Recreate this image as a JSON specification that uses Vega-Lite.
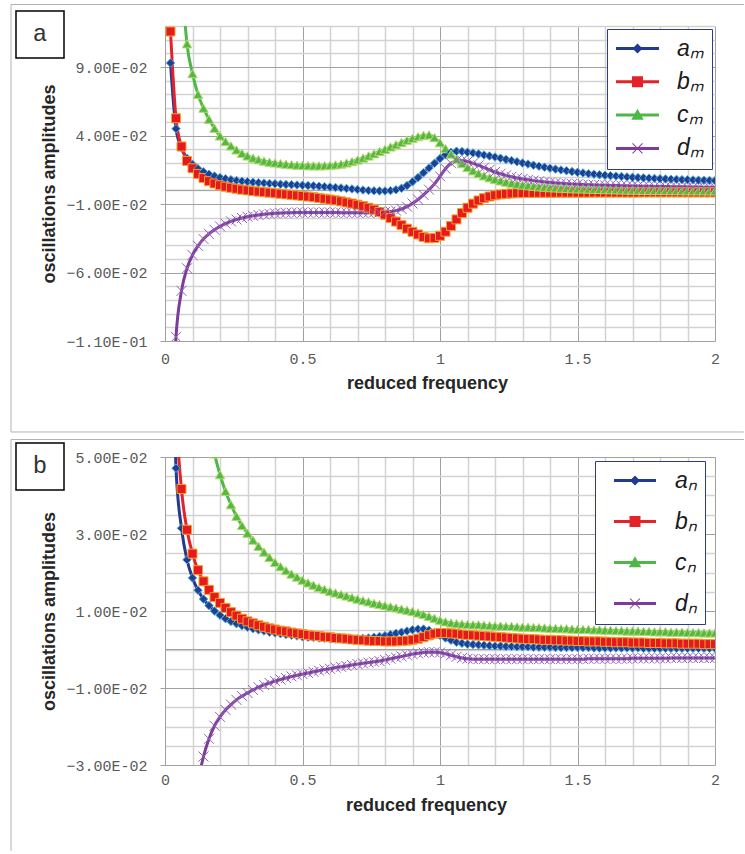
{
"$schema":"https://vega.github.io/schema/vega-lite/v6.json",
"padding":{"left":10,"top":3,"right":0,"bottom":0},
"spacing":6,
"resolve":{"scale":{"color":"independent","shape":"independent","fill":"independent","stroke":"independent","size":"independent"}},
"config":{"view":{"stroke":null},
"axis":{"labelFont":"Liberation Mono","labelFontSize":15,"labelColor":"#595959","titleFont":"Liberation Sans","titleFontSize":18,"titleFontWeight":"bold","titleColor":"#262626","domainColor":"#A0A0A0","labelOverlap":false,"labelFlush":false,"labelBound":false}},
"datasets":{
"m":[
{"x":0.02,"a":0.093,"b":0.116,"c":0.5,"d":-0.2},
{"x":0.04,"a":0.045,"b":0.0526,"c":0.25,"d":-0.107},
{"x":0.06,"a":0.031,"b":0.032,"c":0.16,"d":-0.0734},
{"x":0.08,"a":0.0235,"b":0.0215,"c":0.107,"d":-0.0569},
{"x":0.1,"a":0.019,"b":0.0161,"c":0.0852,"d":-0.0472},
{"x":0.12,"a":0.0158,"b":0.012,"c":0.0701,"d":-0.0405},
{"x":0.14,"a":0.0135,"b":0.009,"c":0.06,"d":-0.0355},
{"x":0.16,"a":0.0118,"b":0.0067,"c":0.0519,"d":-0.0318},
{"x":0.18,"a":0.0104,"b":0.005,"c":0.0453,"d":-0.0288},
{"x":0.2,"a":0.0093,"b":0.0037,"c":0.0397,"d":-0.0263},
{"x":0.22,"a":0.0085,"b":0.0027,"c":0.0356,"d":-0.0243},
{"x":0.24,"a":0.0078,"b":0.0019,"c":0.0324,"d":-0.0227},
{"x":0.26,"a":0.0072,"b":0.0012,"c":0.0295,"d":-0.0213},
{"x":0.28,"a":0.0067,"b":0.0005,"c":0.027,"d":-0.0202},
{"x":0.3,"a":0.0063,"b":0.0,"c":0.0251,"d":-0.0193},
{"x":0.32,"a":0.0059,"b":-0.0005,"c":0.0236,"d":-0.0186},
{"x":0.34,"a":0.0056,"b":-0.0009,"c":0.0224,"d":-0.018},
{"x":0.36,"a":0.0053,"b":-0.0013,"c":0.0214,"d":-0.0175},
{"x":0.38,"a":0.005,"b":-0.0017,"c":0.0206,"d":-0.0171},
{"x":0.4,"a":0.0048,"b":-0.0021,"c":0.02,"d":-0.0168},
{"x":0.42,"a":0.0045,"b":-0.0025,"c":0.0195,"d":-0.0166},
{"x":0.44,"a":0.0043,"b":-0.0029,"c":0.0191,"d":-0.0164},
{"x":0.46,"a":0.0041,"b":-0.0033,"c":0.0187,"d":-0.0163},
{"x":0.48,"a":0.0039,"b":-0.0037,"c":0.0184,"d":-0.0162},
{"x":0.5,"a":0.0037,"b":-0.0041,"c":0.0182,"d":-0.0162},
{"x":0.52,"a":0.0035,"b":-0.0045,"c":0.018,"d":-0.0162},
{"x":0.54,"a":0.0033,"b":-0.005,"c":0.0179,"d":-0.0162},
{"x":0.56,"a":0.003,"b":-0.0055,"c":0.0179,"d":-0.0162},
{"x":0.58,"a":0.0027,"b":-0.0061,"c":0.018,"d":-0.0162},
{"x":0.6,"a":0.0024,"b":-0.0067,"c":0.0182,"d":-0.0162},
{"x":0.62,"a":0.0021,"b":-0.0073,"c":0.0186,"d":-0.0162},
{"x":0.64,"a":0.0018,"b":-0.008,"c":0.0192,"d":-0.0163},
{"x":0.66,"a":0.0014,"b":-0.0088,"c":0.02,"d":-0.0163},
{"x":0.68,"a":0.001,"b":-0.0096,"c":0.021,"d":-0.0163},
{"x":0.7,"a":0.0006,"b":-0.0105,"c":0.0222,"d":-0.0163},
{"x":0.72,"a":0.0002,"b":-0.0115,"c":0.0236,"d":-0.0163},
{"x":0.74,"a":-0.0001,"b":-0.0127,"c":0.0251,"d":-0.0163},
{"x":0.76,"a":-0.0003,"b":-0.0141,"c":0.0267,"d":-0.0162},
{"x":0.78,"a":-0.0004,"b":-0.0158,"c":0.0284,"d":-0.0161},
{"x":0.8,"a":-0.0004,"b":-0.0178,"c":0.03,"d":-0.0159},
{"x":0.82,"a":-0.0002,"b":-0.0202,"c":0.0317,"d":-0.0155},
{"x":0.84,"a":0.0004,"b":-0.0228,"c":0.0333,"d":-0.0148},
{"x":0.86,"a":0.0015,"b":-0.0254,"c":0.035,"d":-0.0136},
{"x":0.88,"a":0.0035,"b":-0.028,"c":0.0366,"d":-0.0119},
{"x":0.9,"a":0.0062,"b":-0.0303,"c":0.038,"d":-0.0096},
{"x":0.92,"a":0.0093,"b":-0.0322,"c":0.0392,"d":-0.0067},
{"x":0.94,"a":0.0128,"b":-0.034,"c":0.0401,"d":-0.0033},
{"x":0.96,"a":0.0163,"b":-0.035,"c":0.0405,"d":0.0005},
{"x":0.98,"a":0.0198,"b":-0.0348,"c":0.0385,"d":0.0047},
{"x":1.0,"a":0.0232,"b":-0.0332,"c":0.0348,"d":0.0103},
{"x":1.02,"a":0.026,"b":-0.0302,"c":0.0305,"d":0.0158},
{"x":1.04,"a":0.0278,"b":-0.026,"c":0.0265,"d":0.0198},
{"x":1.06,"a":0.0286,"b":-0.0212,"c":0.0228,"d":0.0217},
{"x":1.08,"a":0.0284,"b":-0.0166,"c":0.0195,"d":0.0218},
{"x":1.1,"a":0.0279,"b":-0.0127,"c":0.0167,"d":0.021},
{"x":1.12,"a":0.0273,"b":-0.0097,"c":0.0143,"d":0.0197},
{"x":1.14,"a":0.0266,"b":-0.0074,"c":0.0123,"d":0.0182},
{"x":1.16,"a":0.0258,"b":-0.0057,"c":0.0106,"d":0.0166},
{"x":1.18,"a":0.0251,"b":-0.0045,"c":0.0092,"d":0.015},
{"x":1.2,"a":0.0243,"b":-0.0036,"c":0.008,"d":0.0134},
{"x":1.22,"a":0.0235,"b":-0.003,"c":0.0069,"d":0.0121},
{"x":1.24,"a":0.0226,"b":-0.0026,"c":0.006,"d":0.0109},
{"x":1.26,"a":0.0218,"b":-0.0023,"c":0.0052,"d":0.0099},
{"x":1.28,"a":0.0209,"b":-0.0021,"c":0.0045,"d":0.009},
{"x":1.3,"a":0.02,"b":-0.002,"c":0.0039,"d":0.0083},
{"x":1.32,"a":0.0192,"b":-0.0019,"c":0.0034,"d":0.0077},
{"x":1.34,"a":0.0184,"b":-0.0019,"c":0.003,"d":0.0071},
{"x":1.36,"a":0.0176,"b":-0.0018,"c":0.0026,"d":0.0066},
{"x":1.38,"a":0.0169,"b":-0.0018,"c":0.0023,"d":0.0061},
{"x":1.4,"a":0.0162,"b":-0.0018,"c":0.002,"d":0.0057},
{"x":1.42,"a":0.0155,"b":-0.0018,"c":0.0018,"d":0.0054},
{"x":1.44,"a":0.0149,"b":-0.0017,"c":0.0016,"d":0.0051},
{"x":1.46,"a":0.0143,"b":-0.0017,"c":0.0014,"d":0.0048},
{"x":1.48,"a":0.0137,"b":-0.0017,"c":0.0012,"d":0.0046},
{"x":1.5,"a":0.0132,"b":-0.0017,"c":0.0011,"d":0.0044},
{"x":1.52,"a":0.0127,"b":-0.0017,"c":0.001,"d":0.0042},
{"x":1.54,"a":0.0122,"b":-0.0017,"c":0.0009,"d":0.0041},
{"x":1.56,"a":0.0118,"b":-0.0016,"c":0.0008,"d":0.0039},
{"x":1.58,"a":0.0114,"b":-0.0016,"c":0.0007,"d":0.0038},
{"x":1.6,"a":0.011,"b":-0.0016,"c":0.0006,"d":0.0037},
{"x":1.62,"a":0.0107,"b":-0.0016,"c":0.0005,"d":0.0036},
{"x":1.64,"a":0.0104,"b":-0.0016,"c":0.0004,"d":0.0035},
{"x":1.66,"a":0.0101,"b":-0.0016,"c":0.0003,"d":0.0034},
{"x":1.68,"a":0.0098,"b":-0.0016,"c":0.0002,"d":0.0033},
{"x":1.7,"a":0.0095,"b":-0.0016,"c":0.0001,"d":0.0032},
{"x":1.72,"a":0.0093,"b":-0.0016,"c":0.0001,"d":0.0031},
{"x":1.74,"a":0.0091,"b":-0.0015,"c":0.0,"d":0.003},
{"x":1.76,"a":0.0089,"b":-0.0015,"c":0.0,"d":0.003},
{"x":1.78,"a":0.0087,"b":-0.0015,"c":-0.0001,"d":0.0029},
{"x":1.8,"a":0.0085,"b":-0.0015,"c":-0.0001,"d":0.0028},
{"x":1.82,"a":0.0083,"b":-0.0015,"c":-0.0001,"d":0.0028},
{"x":1.84,"a":0.0081,"b":-0.0015,"c":-0.0002,"d":0.0027},
{"x":1.86,"a":0.008,"b":-0.0015,"c":-0.0002,"d":0.0026},
{"x":1.88,"a":0.0078,"b":-0.0015,"c":-0.0002,"d":0.0026},
{"x":1.9,"a":0.0077,"b":-0.0015,"c":-0.0003,"d":0.0025},
{"x":1.92,"a":0.0076,"b":-0.0015,"c":-0.0003,"d":0.0024},
{"x":1.94,"a":0.0074,"b":-0.0015,"c":-0.0003,"d":0.0024},
{"x":1.96,"a":0.0073,"b":-0.0015,"c":-0.0003,"d":0.0023},
{"x":1.98,"a":0.0072,"b":-0.0015,"c":-0.0004,"d":0.0023},
{"x":2.0,"a":0.0071,"b":-0.0015,"c":-0.0004,"d":0.0022}
],
"n":[
{"x":0.02,"a":0.15,"b":0.2,"c":0.45,"d":-0.2},
{"x":0.04,"a":0.0471,"b":0.065,"c":0.24,"d":-0.12},
{"x":0.06,"a":0.0315,"b":0.0417,"c":0.16,"d":-0.08},
{"x":0.08,"a":0.0233,"b":0.0311,"c":0.12,"d":-0.057},
{"x":0.1,"a":0.0186,"b":0.0249,"c":0.095,"d":-0.044},
{"x":0.12,"a":0.0154,"b":0.0206,"c":0.078,"d":-0.0345},
{"x":0.14,"a":0.0131,"b":0.0177,"c":0.066,"d":-0.0278},
{"x":0.16,"a":0.0114,"b":0.0155,"c":0.057,"d":-0.0232},
{"x":0.18,"a":0.01,"b":0.0136,"c":0.0508,"d":-0.0198},
{"x":0.2,"a":0.0089,"b":0.0121,"c":0.0454,"d":-0.0175},
{"x":0.22,"a":0.008,"b":0.0108,"c":0.0411,"d":-0.0157},
{"x":0.24,"a":0.0073,"b":0.0097,"c":0.0376,"d":-0.0143},
{"x":0.26,"a":0.0067,"b":0.0088,"c":0.0346,"d":-0.0131},
{"x":0.28,"a":0.0062,"b":0.008,"c":0.0322,"d":-0.0121},
{"x":0.3,"a":0.0058,"b":0.0073,"c":0.0302,"d":-0.0113},
{"x":0.32,"a":0.0054,"b":0.0068,"c":0.0284,"d":-0.0105},
{"x":0.34,"a":0.0051,"b":0.0063,"c":0.0268,"d":-0.0098},
{"x":0.36,"a":0.0048,"b":0.0059,"c":0.0253,"d":-0.0092},
{"x":0.38,"a":0.0045,"b":0.0055,"c":0.0239,"d":-0.0087},
{"x":0.4,"a":0.0043,"b":0.0052,"c":0.0226,"d":-0.0082},
{"x":0.42,"a":0.0041,"b":0.0049,"c":0.0215,"d":-0.0078},
{"x":0.44,"a":0.0039,"b":0.0047,"c":0.0205,"d":-0.0074},
{"x":0.46,"a":0.0037,"b":0.0044,"c":0.0196,"d":-0.007},
{"x":0.48,"a":0.0035,"b":0.0042,"c":0.0188,"d":-0.0067},
{"x":0.5,"a":0.0033,"b":0.004,"c":0.018,"d":-0.0064},
{"x":0.52,"a":0.0032,"b":0.0038,"c":0.0173,"d":-0.0061},
{"x":0.54,"a":0.0031,"b":0.0036,"c":0.0167,"d":-0.0058},
{"x":0.56,"a":0.003,"b":0.0035,"c":0.0161,"d":-0.0055},
{"x":0.58,"a":0.0029,"b":0.0033,"c":0.0156,"d":-0.0052},
{"x":0.6,"a":0.0028,"b":0.0032,"c":0.0151,"d":-0.005},
{"x":0.62,"a":0.0027,"b":0.003,"c":0.0147,"d":-0.0047},
{"x":0.64,"a":0.0027,"b":0.0029,"c":0.0143,"d":-0.0045},
{"x":0.66,"a":0.0027,"b":0.0028,"c":0.0139,"d":-0.0043},
{"x":0.68,"a":0.0027,"b":0.0026,"c":0.0135,"d":-0.004},
{"x":0.7,"a":0.0028,"b":0.0025,"c":0.0131,"d":-0.0038},
{"x":0.72,"a":0.0029,"b":0.0024,"c":0.0127,"d":-0.0036},
{"x":0.74,"a":0.003,"b":0.0023,"c":0.0124,"d":-0.0034},
{"x":0.76,"a":0.0032,"b":0.0022,"c":0.012,"d":-0.0032},
{"x":0.78,"a":0.0034,"b":0.0022,"c":0.0117,"d":-0.003},
{"x":0.8,"a":0.0036,"b":0.0021,"c":0.0114,"d":-0.0027},
{"x":0.82,"a":0.0039,"b":0.0021,"c":0.0111,"d":-0.0024},
{"x":0.84,"a":0.0042,"b":0.0021,"c":0.0108,"d":-0.0021},
{"x":0.86,"a":0.0045,"b":0.0022,"c":0.0105,"d":-0.0018},
{"x":0.88,"a":0.0048,"b":0.0023,"c":0.0102,"d":-0.0015},
{"x":0.9,"a":0.0051,"b":0.0025,"c":0.0099,"d":-0.0012},
{"x":0.92,"a":0.0053,"b":0.0028,"c":0.0095,"d":-0.001},
{"x":0.94,"a":0.0053,"b":0.0032,"c":0.0091,"d":-0.0008},
{"x":0.96,"a":0.005,"b":0.0037,"c":0.0086,"d":-0.0007},
{"x":0.98,"a":0.0044,"b":0.0041,"c":0.0081,"d":-0.0007},
{"x":1.0,"a":0.0037,"b":0.0043,"c":0.0076,"d":-0.0008},
{"x":1.02,"a":0.003,"b":0.0043,"c":0.0072,"d":-0.0011},
{"x":1.04,"a":0.0024,"b":0.0042,"c":0.0069,"d":-0.0015},
{"x":1.06,"a":0.0019,"b":0.0041,"c":0.0067,"d":-0.0019},
{"x":1.08,"a":0.0016,"b":0.0039,"c":0.0066,"d":-0.0022},
{"x":1.1,"a":0.0014,"b":0.0038,"c":0.0065,"d":-0.0024},
{"x":1.12,"a":0.0013,"b":0.0037,"c":0.0064,"d":-0.0025},
{"x":1.14,"a":0.0012,"b":0.0036,"c":0.0064,"d":-0.0025},
{"x":1.16,"a":0.0011,"b":0.0035,"c":0.0063,"d":-0.0025},
{"x":1.18,"a":0.001,"b":0.0034,"c":0.0062,"d":-0.0025},
{"x":1.2,"a":0.0009,"b":0.0033,"c":0.0061,"d":-0.0025},
{"x":1.22,"a":0.0009,"b":0.0032,"c":0.0061,"d":-0.0025},
{"x":1.24,"a":0.0008,"b":0.0031,"c":0.006,"d":-0.0025},
{"x":1.26,"a":0.0008,"b":0.003,"c":0.006,"d":-0.0025},
{"x":1.28,"a":0.0007,"b":0.0029,"c":0.0059,"d":-0.0025},
{"x":1.3,"a":0.0007,"b":0.0028,"c":0.0058,"d":-0.0025},
{"x":1.32,"a":0.0007,"b":0.0027,"c":0.0058,"d":-0.0025},
{"x":1.34,"a":0.0006,"b":0.0027,"c":0.0057,"d":-0.0025},
{"x":1.36,"a":0.0006,"b":0.0026,"c":0.0057,"d":-0.0025},
{"x":1.38,"a":0.0006,"b":0.0025,"c":0.0056,"d":-0.0025},
{"x":1.4,"a":0.0006,"b":0.0025,"c":0.0055,"d":-0.0025},
{"x":1.42,"a":0.0005,"b":0.0024,"c":0.0055,"d":-0.0025},
{"x":1.44,"a":0.0005,"b":0.0024,"c":0.0054,"d":-0.0025},
{"x":1.46,"a":0.0005,"b":0.0023,"c":0.0054,"d":-0.0025},
{"x":1.48,"a":0.0005,"b":0.0023,"c":0.0053,"d":-0.0025},
{"x":1.5,"a":0.0005,"b":0.0022,"c":0.0052,"d":-0.0025},
{"x":1.52,"a":0.0005,"b":0.0022,"c":0.0052,"d":-0.0025},
{"x":1.54,"a":0.0005,"b":0.0021,"c":0.0052,"d":-0.0024},
{"x":1.56,"a":0.0004,"b":0.0021,"c":0.0051,"d":-0.0024},
{"x":1.58,"a":0.0004,"b":0.0021,"c":0.0051,"d":-0.0024},
{"x":1.6,"a":0.0004,"b":0.002,"c":0.005,"d":-0.0024},
{"x":1.62,"a":0.0004,"b":0.002,"c":0.005,"d":-0.0024},
{"x":1.64,"a":0.0004,"b":0.0019,"c":0.0049,"d":-0.0024},
{"x":1.66,"a":0.0004,"b":0.0019,"c":0.0049,"d":-0.0024},
{"x":1.68,"a":0.0004,"b":0.0019,"c":0.0048,"d":-0.0024},
{"x":1.7,"a":0.0004,"b":0.0018,"c":0.0048,"d":-0.0023},
{"x":1.72,"a":0.0004,"b":0.0018,"c":0.0048,"d":-0.0023},
{"x":1.74,"a":0.0003,"b":0.0018,"c":0.0047,"d":-0.0023},
{"x":1.76,"a":0.0003,"b":0.0017,"c":0.0047,"d":-0.0023},
{"x":1.78,"a":0.0003,"b":0.0017,"c":0.0046,"d":-0.0023},
{"x":1.8,"a":0.0003,"b":0.0017,"c":0.0046,"d":-0.0023},
{"x":1.82,"a":0.0003,"b":0.0016,"c":0.0046,"d":-0.0023},
{"x":1.84,"a":0.0003,"b":0.0016,"c":0.0045,"d":-0.0022},
{"x":1.86,"a":0.0003,"b":0.0016,"c":0.0045,"d":-0.0022},
{"x":1.88,"a":0.0003,"b":0.0015,"c":0.0045,"d":-0.0022},
{"x":1.9,"a":0.0003,"b":0.0015,"c":0.0044,"d":-0.0022},
{"x":1.92,"a":0.0003,"b":0.0015,"c":0.0044,"d":-0.0022},
{"x":1.94,"a":0.0003,"b":0.0015,"c":0.0044,"d":-0.0022},
{"x":1.96,"a":0.0003,"b":0.0014,"c":0.0043,"d":-0.0022},
{"x":1.98,"a":0.0003,"b":0.0014,"c":0.0043,"d":-0.0022},
{"x":2.0,"a":0.0003,"b":0.0014,"c":0.0043,"d":-0.0022}
]},
"vconcat":[
{"width":550,"height":315,
"resolve":{"scale":{"color":"independent","shape":"independent"},"axis":{"x":"independent","y":"independent"}},
"layer":[
{"data":{"name":"m"},"transform":[{"fold":["a","b","c","d"],"as":["s","v"]}],
 "mark":{"type":"line","interpolate":"monotone","strokeWidth":3,"clip":true},
 "encoding":{
  "x":{"field":"x","type":"quantitative","scale":{"domain":[0,2],"nice":false,"zero":false},
   "axis":{"orient":"bottom","values":[0,0.1,0.2,0.3,0.4,0.5,0.6,0.7,0.8,0.9,1,1.1,1.2,1.3,1.4,1.5,1.6,1.7,1.8,1.9,2],"labels":false,"ticks":false,"domain":false,"title":null,
   "gridColor":{"condition":{"test":"abs(datum.value*2-round(datum.value*2))<0.001","value":"#A0A0A0"},"value":"#D2D2D2"},
   "gridWidth":{"condition":{"test":"abs(datum.value*2-round(datum.value*2))<0.001","value":1},"value":1.5}}},
  "y":{"field":"v","type":"quantitative","scale":{"domain":[-0.11,0.12],"nice":false,"zero":false},
   "axis":{"orient":"left","values":[-0.11,-0.1,-0.09,-0.08,-0.07,-0.06,-0.05,-0.04,-0.03,-0.02,-0.01,0,0.01,0.02,0.03,0.04,0.05,0.06,0.07,0.08,0.09,0.1,0.11,0.12],"labels":false,"ticks":false,"domain":false,"title":null,
   "gridColor":{"condition":{"test":"abs((datum.value+0.11)*20-round((datum.value+0.11)*20))<0.001","value":"#A0A0A0"},"value":"#D2D2D2"},
   "gridWidth":{"condition":{"test":"abs((datum.value+0.11)*20-round((datum.value+0.11)*20))<0.001","value":1},"value":1.5}}},
  "color":{"field":"s","type":"nominal","scale":{"domain":["a","b","c","d"],"range":["#243A8E","#E4222A","#4DB848","#7D3C98"]},"legend":null}}},
{"data":{"values":[{}]},"mark":{"type":"rule","color":"#B3B3B3","strokeWidth":1},
 "encoding":{"x":{"datum":-0.56,"type":"quantitative","scale":{"domain":[0,2],"nice":false,"zero":false},"axis":null},"x2":{"datum":2.10545},
 "y":{"datum":0.1357,"type":"quantitative","scale":{"domain":[-0.11,0.12],"nice":false,"zero":false},"axis":null}}},
{"data":{"values":[{}]},"mark":{"type":"rule","color":"#B3B3B3","strokeWidth":1},
 "encoding":{"x":{"datum":-0.56,"type":"quantitative","scale":{"domain":[0,2],"nice":false,"zero":false},"axis":null},
 "y":{"datum":0.1357,"type":"quantitative","scale":{"domain":[-0.11,0.12],"nice":false,"zero":false},"axis":null},"y2":{"datum":-0.17644}}},
{"data":{"values":[{}]},"mark":{"type":"rule","color":"#B3B3B3","strokeWidth":1},
 "encoding":{"x":{"datum":-0.56,"type":"quantitative","scale":{"domain":[0,2],"nice":false,"zero":false},"axis":null},"x2":{"datum":2.10545},
 "y":{"datum":-0.17644,"type":"quantitative","scale":{"domain":[-0.11,0.12],"nice":false,"zero":false},"axis":null}}},
{"data":{"values":[{}]},"mark":{"type":"rect","fill":"#FFFFFF","stroke":"#000000","strokeWidth":1.5},
 "encoding":{"x":{"datum":-0.54182,"type":"quantitative","scale":{"domain":[0,2],"nice":false,"zero":false},"axis":null},"x2":{"datum":-0.36727},
 "y":{"datum":0.13095,"type":"quantitative","scale":{"domain":[-0.11,0.12],"nice":false,"zero":false},"axis":null},"y2":{"datum":0.09664}}},
{"data":{"values":[{}]},"mark":{"type":"text","text":"a","font":"Liberation Mono","fontSize":24,"color":"#333333","align":"center","baseline":"middle"},
 "encoding":{"x":{"datum":-0.45455,"type":"quantitative","scale":{"domain":[0,2],"nice":false,"zero":false},"axis":null},
 "y":{"datum":0.1138,"type":"quantitative","scale":{"domain":[-0.11,0.12],"nice":false,"zero":false},"axis":null}}},
{"data":{"values":[{}]},"mark":{"type":"rule","color":"#A0A0A0","strokeWidth":1},
 "encoding":{"y":{"datum":0,"type":"quantitative","scale":{"domain":[-0.11,0.12],"nice":false,"zero":false},"axis":null}}},
{"data":{"name":"m"},"transform":[{"fold":["a","b","c","d"],"as":["s","v"]}],
 "mark":{"type":"point","filled":true,"opacity":1,"strokeWidth":1,"clip":true},
 "encoding":{
  "x":{"field":"x","type":"quantitative","scale":{"domain":[0,2],"nice":false,"zero":false},
   "axis":{"orient":"bottom","values":[0,0.5,1,1.5,2],"format":"~g","grid":false,"ticks":false,"domain":false,"labelOverlap":false,"labelPadding":10,"title":"reduced frequency","titleX":262,"titleY":42,"titleBaseline":"middle"}},
  "y":{"field":"v","type":"quantitative","scale":{"domain":[-0.11,0.12],"nice":false,"zero":false},
   "axis":{"orient":"left","values":[-0.11,-0.06,-0.01,0.04,0.09],"labelExpr":"replace(format(datum.value,'.2e'),'e-','E-0')","grid":false,"ticks":true,"tickSize":5,"tickColor":"#A0A0A0","domain":true,"domainColor":"#A0A0A0","labelOverlap":false,"labelPadding":13,"title":"oscillations amplitudes","titleX":-116,"titleBaseline":"middle"}},
  "shape":{"field":"s","type":"nominal","scale":{"domain":["a","b","c","d"],"range":["diamond","square","triangle-up","M-1,-1L1,1M-1,1L1,-1"]},"legend":null},
  "fill":{"field":"s","type":"nominal","scale":{"domain":["a","b","c","d"],"range":["#1F3F8F","#E5191F","#52B947","transparent"]},"legend":null},
  "stroke":{"field":"s","type":"nominal","scale":{"domain":["a","b","c","d"],"range":["#4AA8E0","#F5A02A","#B8D96A","#9160BD"]},"legend":null},
  "size":{"field":"s","type":"nominal","scale":{"domain":["a","b","c","d"],"range":[72,100,110,72]},"legend":null}}},
{"data":{"values":[]},
 "mark":{"type":"point","filled":true,"opacity":1},
 "encoding":{
  "x":{"field":"x","type":"quantitative","scale":{"domain":[0,2],"nice":false,"zero":false},"axis":null},
  "y":{"field":"v","type":"quantitative","scale":{"domain":[-0.11,0.12],"nice":false,"zero":false},"axis":null},
  "color":{"field":"s","type":"nominal","scale":{"domain":["a","b","c","d"],"range":["#243A8E","#E4222A","#4DB848","#7D3C98"]},
   "legend":{"orient":"none","legendX":442,"legendY":3,"title":null,"labelExpr":"datum.label+'ₘ'","labelFont":"Liberation Sans","labelFontSize":23,"labelFontStyle":"italic","labelColor":"#1A1A1A","symbolSize":100,"symbolOffset":11,"labelOffset":28,"rowPadding":9.3,"padding":8,"strokeColor":"#2E3A8C","fillColor":"#FFFFFF","symbolStrokeWidth":0}},
  "shape":{"field":"s","type":"nominal","scale":{"domain":["a","b","c","d"],"range":["M-4.3,-0.3H4.3V0.3H-4.3ZM0,-1L1,0L0,1L-1,0Z","M-4.3,-0.3H4.3V0.3H-4.3ZM-1.1,-1.1H1.1V1.1H-1.1Z","M-4.3,-0.3H4.3V0.3H-4.3ZM0,-1.25L1.25,0.95H-1.25Z","M-4.3,-0.3H4.3V0.3H-4.3ZM-0.93,-1.07L1.07,0.93L0.93,1.07L-1.07,-0.93ZM-1.07,0.93L0.93,-1.07L1.07,-0.93L-0.93,1.07Z"]},
   "legend":{"orient":"none","legendX":442,"legendY":3,"title":null,"labelExpr":"datum.label+'ₘ'","labelFont":"Liberation Sans","labelFontSize":23,"labelFontStyle":"italic","labelColor":"#1A1A1A","symbolSize":100,"symbolOffset":11,"labelOffset":28,"rowPadding":9.3,"padding":8,"strokeColor":"#2E3A8C","fillColor":"#FFFFFF","symbolStrokeWidth":0}}}}
]},
{"width":550,"height":308,
"resolve":{"scale":{"color":"independent","shape":"independent"},"axis":{"x":"independent","y":"independent"}},
"layer":[
{"data":{"name":"n"},"transform":[{"fold":["a","b","c","d"],"as":["s","v"]}],
 "mark":{"type":"line","interpolate":"monotone","strokeWidth":3,"clip":true},
 "encoding":{
  "x":{"field":"x","type":"quantitative","scale":{"domain":[0,2],"nice":false,"zero":false},
   "axis":{"orient":"bottom","values":[0,0.1,0.2,0.3,0.4,0.5,0.6,0.7,0.8,0.9,1,1.1,1.2,1.3,1.4,1.5,1.6,1.7,1.8,1.9,2],"labels":false,"ticks":false,"domain":false,"title":null,
   "gridColor":{"condition":{"test":"abs(datum.value*2-round(datum.value*2))<0.001","value":"#A0A0A0"},"value":"#D2D2D2"},
   "gridWidth":{"condition":{"test":"abs(datum.value*2-round(datum.value*2))<0.001","value":1},"value":1.5}}},
  "y":{"field":"v","type":"quantitative","scale":{"domain":[-0.03,0.05],"nice":false,"zero":false},
   "axis":{"orient":"left","values":[-0.03,-0.025,-0.02,-0.015,-0.01,-0.005,0,0.005,0.01,0.015,0.02,0.025,0.03,0.035,0.04,0.045,0.05],"labels":false,"ticks":false,"domain":false,"title":null,
   "gridColor":{"condition":{"test":"abs((datum.value+0.03)*50-round((datum.value+0.03)*50))<0.001","value":"#A0A0A0"},"value":"#D2D2D2"},
   "gridWidth":{"condition":{"test":"abs((datum.value+0.03)*50-round((datum.value+0.03)*50))<0.001","value":1},"value":1.5}}},
  "color":{"field":"s","type":"nominal","scale":{"domain":["a","b","c","d"],"range":["#243A8E","#E4222A","#4DB848","#7D3C98"]},"legend":null}}},
{"data":{"values":[{}]},"mark":{"type":"rule","color":"#B3B3B3","strokeWidth":1},
 "encoding":{"x":{"datum":-0.56,"type":"quantitative","scale":{"domain":[0,2],"nice":false,"zero":false},"axis":null},"x2":{"datum":2.10545},
 "y":{"datum":0.054545,"type":"quantitative","scale":{"domain":[-0.03,0.05],"nice":false,"zero":false},"axis":null}}},
{"data":{"values":[{}]},"mark":{"type":"rule","color":"#B3B3B3","strokeWidth":1},
 "encoding":{"x":{"datum":-0.56,"type":"quantitative","scale":{"domain":[0,2],"nice":false,"zero":false},"axis":null},
 "y":{"datum":0.054545,"type":"quantitative","scale":{"domain":[-0.03,0.05],"nice":false,"zero":false},"axis":null},"y2":{"datum":-0.052338}}},
{"data":{"values":[{}]},"mark":{"type":"rect","fill":"#FFFFFF","stroke":"#000000","strokeWidth":1.5},
 "encoding":{"x":{"datum":-0.54182,"type":"quantitative","scale":{"domain":[0,2],"nice":false,"zero":false},"axis":null},"x2":{"datum":-0.36727},
 "y":{"datum":0.053636,"type":"quantitative","scale":{"domain":[-0.03,0.05],"nice":false,"zero":false},"axis":null},"y2":{"datum":0.041429}}},
{"data":{"values":[{}]},"mark":{"type":"text","text":"b","font":"Liberation Mono","fontSize":24,"color":"#333333","align":"center","baseline":"middle"},
 "encoding":{"x":{"datum":-0.45455,"type":"quantitative","scale":{"domain":[0,2],"nice":false,"zero":false},"axis":null},
 "y":{"datum":0.047662,"type":"quantitative","scale":{"domain":[-0.03,0.05],"nice":false,"zero":false},"axis":null}}},
{"data":{"values":[{}]},"mark":{"type":"rule","color":"#A0A0A0","strokeWidth":1},
 "encoding":{"y":{"datum":0,"type":"quantitative","scale":{"domain":[-0.03,0.05],"nice":false,"zero":false},"axis":null}}},
{"data":{"name":"n"},"transform":[{"fold":["a","b","c","d"],"as":["s","v"]}],
 "mark":{"type":"point","filled":true,"opacity":1,"strokeWidth":1,"clip":true},
 "encoding":{
  "x":{"field":"x","type":"quantitative","scale":{"domain":[0,2],"nice":false,"zero":false},
   "axis":{"orient":"bottom","values":[0,0.5,1,1.5,2],"format":"~g","grid":false,"ticks":false,"domain":false,"labelOverlap":false,"labelPadding":7,"title":"reduced frequency","titleX":261,"titleY":40,"titleBaseline":"middle"}},
  "y":{"field":"v","type":"quantitative","scale":{"domain":[-0.03,0.05],"nice":false,"zero":false},
   "axis":{"orient":"left","values":[-0.03,-0.01,0.01,0.03,0.05],"labelExpr":"replace(format(datum.value,'.2e'),'e-','E-0')","grid":false,"ticks":true,"tickSize":5,"tickColor":"#A0A0A0","domain":true,"domainColor":"#A0A0A0","labelOverlap":false,"labelPadding":13,"title":"oscillations amplitudes","titleX":-116,"titleBaseline":"middle"}},
  "shape":{"field":"s","type":"nominal","scale":{"domain":["a","b","c","d"],"range":["diamond","square","triangle-up","M-1,-1L1,1M-1,1L1,-1"]},"legend":null},
  "fill":{"field":"s","type":"nominal","scale":{"domain":["a","b","c","d"],"range":["#1F3F8F","#E5191F","#52B947","transparent"]},"legend":null},
  "stroke":{"field":"s","type":"nominal","scale":{"domain":["a","b","c","d"],"range":["#4AA8E0","#F5A02A","#B8D96A","#9160BD"]},"legend":null},
  "size":{"field":"s","type":"nominal","scale":{"domain":["a","b","c","d"],"range":[72,100,110,72]},"legend":null}}},
{"data":{"values":[]},
 "mark":{"type":"point","filled":true,"opacity":1},
 "encoding":{
  "x":{"field":"x","type":"quantitative","scale":{"domain":[0,2],"nice":false,"zero":false},"axis":null},
  "y":{"field":"v","type":"quantitative","scale":{"domain":[-0.03,0.05],"nice":false,"zero":false},"axis":null},
  "color":{"field":"s","type":"nominal","scale":{"domain":["a","b","c","d"],"range":["#243A8E","#E4222A","#4DB848","#7D3C98"]},
   "legend":{"orient":"none","legendX":430,"legendY":4,"title":null,"labelExpr":"datum.label+'ₙ'","labelFont":"Liberation Sans","labelFontSize":23,"labelFontStyle":"italic","labelColor":"#1A1A1A","symbolSize":100,"symbolOffset":20.5,"labelOffset":28.5,"rowPadding":17,"padding":8,"strokeColor":"#2E3A8C","fillColor":"#FFFFFF","symbolStrokeWidth":0}},
  "shape":{"field":"s","type":"nominal","scale":{"domain":["a","b","c","d"],"range":["M-4.2,-0.3H4.2V0.3H-4.2ZM0,-1L1,0L0,1L-1,0Z","M-4.2,-0.3H4.2V0.3H-4.2ZM-1.1,-1.1H1.1V1.1H-1.1Z","M-4.2,-0.3H4.2V0.3H-4.2ZM0,-1.25L1.25,0.95H-1.25Z","M-4.2,-0.3H4.2V0.3H-4.2ZM-0.93,-1.07L1.07,0.93L0.93,1.07L-1.07,-0.93ZM-1.07,0.93L0.93,-1.07L1.07,-0.93L-0.93,1.07Z"]},
   "legend":{"orient":"none","legendX":430,"legendY":4,"title":null,"labelExpr":"datum.label+'ₙ'","labelFont":"Liberation Sans","labelFontSize":23,"labelFontStyle":"italic","labelColor":"#1A1A1A","symbolSize":100,"symbolOffset":20.5,"labelOffset":28.5,"rowPadding":17,"padding":8,"strokeColor":"#2E3A8C","fillColor":"#FFFFFF","symbolStrokeWidth":0}}}}
]}
]}
